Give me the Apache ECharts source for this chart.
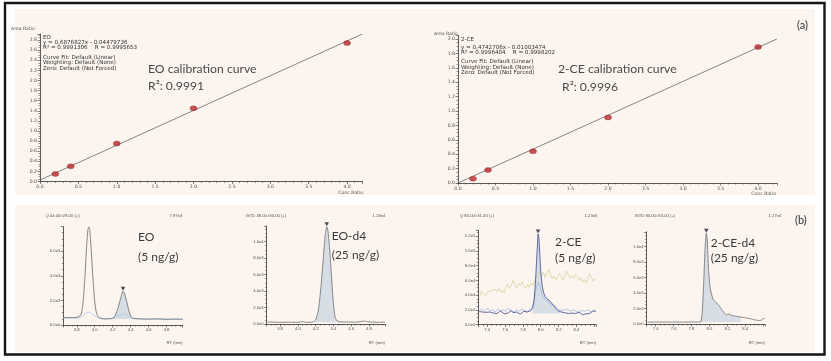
<!DOCTYPE html>
<html><head><meta charset="utf-8">
<script src="https://cdn.jsdelivr.net/npm/echarts@6/dist/echarts.min.js"></script>
<style>html,body{margin:0;padding:0;background:#fff}#c{width:831px;height:361px}</style>
</head><body><div id="c"></div>
<script>
// ---------- DATA ----------
const concRatio = [0.2, 0.4, 1.0, 2.0, 4.0];
const eoAreaRatio = [0.15, 0.30, 0.75, 1.45, 2.74];
const ceAreaRatio = [0.06, 0.18, 0.44, 0.91, 1.89];
const eoFitLine = [[0, 0.03], [4.2, 2.92]];
const ceFitLine = [[0, 0.0], [4.25, 2.0]];

const eoInfo = ['EO', 'y = 0.6876827x - 0.04479736', 'R\u00b2 = 0.9991306    R = 0.9995653', 'Curve Fit: Default (Linear)', 'Weighting: Default (None)', 'Zero: Default (Not Forced)'];
const ceInfo = ['2-CE', 'y = 0.4742706x - 0.01003474', 'R\u00b2 = 0.9996404    R = 0.9998202', 'Curve Fit: Default (Linear)', 'Weighting: Default (None)', 'Zero: Default (Not Forced)'];

// EO (5 ng/g) quantifier trace and qualifier trace
const eoQuant = [[3.65,620],[3.70,600],[3.75,610],[3.80,620],[3.83,700],[3.85,900],[3.87,1800],[3.89,3800],[3.91,6400],[3.925,7800],[3.935,7970],[3.945,7700],[3.96,6200],[3.98,3800],[4.00,1900],[4.02,950],[4.05,600],[4.10,500],[4.15,500],[4.20,550],[4.23,800],[4.26,1400],[4.29,2200],[4.315,2750],[4.33,2600],[4.36,1800],[4.39,900],[4.42,550],[4.50,500],[4.60,480],[4.70,500],[4.80,460],[4.90,480],[4.98,470]];
const eoQual = [[3.65,550],[3.80,550],[3.85,650],[3.90,950],[3.935,1050],[3.97,900],[4.02,650],[4.10,500],[4.20,550],[4.27,750],[4.32,900],[4.37,750],[4.42,550],[4.60,480],[4.98,470]];
// EO-d4 (25 ng/g)
const eod4 = [[3.66,250],[3.80,200],[3.90,220],[4.00,200],[4.05,300],[4.10,200],[4.17,250],[4.20,500],[4.23,1600],[4.26,4500],[4.29,8500],[4.31,11000],[4.325,11800],[4.34,11200],[4.36,8800],[4.38,5500],[4.40,2500],[4.42,800],[4.45,300],[4.55,250],[4.65,220],[4.75,350],[4.80,250],[4.90,200],[4.98,250]];
// 2-CE (5 ng/g): quantifier, qualifier, third transition
const ceQuant = [[7.31,17500],[7.33,16000],[7.35,17000],[7.37,15000],[7.39,16500],[7.41,14500],[7.43,17000],[7.45,18000],[7.47,15500],[7.49,17000],[7.51,15000],[7.53,16500],[7.55,18500],[7.57,16000],[7.59,14500],[7.61,17000],[7.63,15500],[7.65,17500],[7.67,19000],[7.69,16000],[7.71,15000],[7.73,17000],[7.75,15500],[7.77,14000],[7.79,16500],[7.81,18000],[7.83,15500],[7.85,17000],[7.87,16000],[7.89,19000],[7.91,23000],[7.925,32000],[7.94,55000],[7.955,90000],[7.97,123000],[7.98,118000],[7.99,95000],[8.00,72000],[8.015,54000],[8.03,44000],[8.05,38000],[8.07,35000],[8.09,34000],[8.11,31000],[8.13,28000],[8.15,25000],[8.17,22000],[8.19,19000],[8.21,21000],[8.23,17000],[8.25,19000],[8.27,16000],[8.29,18000],[8.31,15000],[8.33,17000],[8.35,15500],[8.37,18000],[8.39,15000],[8.41,14000],[8.43,16500],[8.45,15000],[8.47,13500],[8.49,16000],[8.51,14500],[8.53,17000],[8.55,15000],[8.57,16000],[8.59,19000],[8.61,17000],[8.62,17500]];
const ceQual = [[7.31,19000],[7.34,21000],[7.37,18000],[7.40,22000],[7.43,19000],[7.46,20000],[7.49,17000],[7.52,21000],[7.55,18000],[7.58,20000],[7.61,18000],[7.64,22000],[7.67,19000],[7.70,17000],[7.73,20000],[7.76,18000],[7.79,21000],[7.82,19000],[7.85,18000],[7.88,21000],[7.91,24000],[7.93,35000],[7.95,50000],[7.97,58000],[7.99,52000],[8.01,43000],[8.03,37000],[8.06,33000],[8.09,30000],[8.12,27000],[8.15,26000],[8.18,23000],[8.21,20000],[8.25,19000],[8.29,21000],[8.33,18000],[8.37,20000],[8.41,17000],[8.45,19000],[8.49,18000],[8.53,20000],[8.57,17000],[8.61,19000]];
const ceQual2 = [[7.32,39000],[7.335,46000],[7.35,42000],[7.37,44000],[7.39,40000],[7.41,45000],[7.43,43000],[7.45,46000],[7.47,44000],[7.49,48000],[7.51,45000],[7.53,49000],[7.55,44000],[7.57,47000],[7.59,43000],[7.61,51000],[7.63,55000],[7.65,49000],[7.67,53000],[7.69,60000],[7.71,54000],[7.73,50000],[7.75,56000],[7.77,53000],[7.79,58000],[7.81,52000],[7.83,49000],[7.85,54000],[7.87,51000],[7.89,56000],[7.91,53000],[7.93,59000],[7.95,63000],[7.97,69000],[7.99,73000],[8.01,66000],[8.03,71000],[8.05,64000],[8.07,70000],[8.09,75000],[8.11,68000],[8.13,62000],[8.15,66000],[8.17,61000],[8.19,65000],[8.21,69000],[8.23,64000],[8.25,60000],[8.27,67000],[8.29,73000],[8.31,68000],[8.33,63000],[8.35,66000],[8.37,62000],[8.39,68000],[8.41,65000],[8.43,60000],[8.45,64000],[8.47,58000],[8.49,61000],[8.51,56000],[8.53,62000],[8.55,69000],[8.57,64000],[8.59,59000],[8.61,63000]];
// 2-CE-d4 (25 ng/g)
const ced4 = [[7.31,250],[7.50,250],[7.70,250],[7.88,250],[7.905,300],[7.92,1500],[7.935,5000],[7.95,9500],[7.965,11700],[7.975,11000],[7.99,7000],[8.01,4500],[8.04,3200],[8.07,2800],[8.10,2500],[8.13,2000],[8.16,1500],[8.19,1200],[8.22,1300],[8.25,1100],[8.30,1000],[8.35,900],[8.40,800],[8.45,700],[8.50,550],[8.55,450],[8.58,500],[8.61,750],[8.62,650]];

// ---------- HELPERS ----------
const GRAY = '#555';
function sci(v){
  if (Math.abs(v) < 1e-9) return '0.0e0';
  const e = Math.floor(Math.log10(Math.abs(v)) + 1e-9);
  return (v / Math.pow(10, e)).toFixed(1) + 'e' + e;
}
function axisBase(fs){
  return {
    axisLine:{show:true,onZero:false,lineStyle:{color:'#333',width:0.8}},
    axisTick:{show:true,length:2.5,lineStyle:{color:'#333',width:0.6}},
    minorTick:{show:true,length:1.5,lineStyle:{color:'#333',width:0.5}},
    splitLine:{show:false}, minorSplitLine:{show:false},
    axisLabel:{fontSize:fs,color:GRAY,margin:3,fontFamily:'DejaVu Sans',showMinLabel:true,showMaxLabel:false}
  };
}
function inRange(arr,a,b){return arr.filter(p=>p[0]>=a&&p[0]<=b);}
function apex(arr,a,b){const s=inRange(arr,a,b);let m=s[0];s.forEach(p=>{if(p[1]>m[1])m=p;});return [m];}

const grids = [
  {left:40, top:34, width:322.4, height:147.5},
  {left:458, top:35.4, width:318.8, height:147.6},
  {left:63.3, top:226.7, width:119.4, height:98.3},
  {left:266.7, top:225.9, width:118.3, height:98.1},
  {left:478.3, top:230.4, width:117.7, height:94.1},
  {left:646.7, top:231.8, width:118.3, height:92.2}
].map(g=>Object.assign({outerBoundsMode:'none',containLabel:false},g));

function calX(i,max){
  const a = axisBase(4.6);
  return Object.assign(a,{type:'value',gridIndex:i,min:0,max:max,interval:0.5,
    minorTick:Object.assign(a.minorTick,{splitNumber:5}),
    axisLabel:Object.assign(a.axisLabel,{formatter:v=>v.toFixed(1)})});
}
function calY(i,max){
  const a = axisBase(4.6);
  return Object.assign(a,{type:'value',gridIndex:i,min:0,max:max,interval:0.2,
    minorTick:Object.assign(a.minorTick,{splitNumber:4}),
    axisLabel:Object.assign(a.axisLabel,{formatter:v=>v.toFixed(1)})});
}
function rtX(i,min,max,hideAbove){
  const a = axisBase(4.2);
  a.axisLabel.fontFamily='Liberation Sans';
  return Object.assign(a,{type:'value',gridIndex:i,min:min,max:max,splitNumber:6,
    minorTick:Object.assign(a.minorTick,{splitNumber:4}),
    axisLabel:Object.assign(a.axisLabel,{showMinLabel:false,formatter:v=>(v>hideAbove?'':v.toFixed(1))})});
}
function intY(i,max,interval){
  const a = axisBase(4.2);
  a.axisLabel.fontFamily='Liberation Sans';
  return Object.assign(a,{type:'value',gridIndex:i,min:0,max:max,interval:interval,
    minorTick:Object.assign(a.minorTick,{splitNumber:4}),
    axisLabel:Object.assign(a.axisLabel,{formatter:v=>sci(v)})});
}

const xAxis = [calX(0,4.2), calX(1,4.25), rtX(2,3.65,4.98,4.9), rtX(3,3.65,4.98,4.9), rtX(4,7.3,8.62,8.5), rtX(5,7.3,8.62,8.5)];
const yAxis = [calY(0,2.92), calY(1,2.05), intY(2,7990,2000), intY(3,11900,2000), intY(4,128000,20000), intY(5,11900,2000)];

function lineS(i,data,color,extra){
  return Object.assign({type:'line',xAxisIndex:i,yAxisIndex:i,data:data,symbol:'none',smooth:false,
    lineStyle:{color:color,width:0.8},silent:true,animation:false},extra||{});
}
function fillS(i,data,origin){
  return {type:'line',xAxisIndex:i,yAxisIndex:i,data:data,symbol:'none',smooth:0.2,
    lineStyle:{width:0},areaStyle:{color:'#c9d5e0',opacity:0.75,origin:origin},silent:true,animation:false,z:1};
}
function apexS(i,data,color){
  return {type:'scatter',xAxisIndex:i,yAxisIndex:i,data:data,symbol:'triangle',symbolRotate:180,
    symbolSize:[4.5,4],symbolOffset:[0,-2.5],itemStyle:{color:color||'#223'},silent:true,animation:false,z:5};
}
function ptsS(i,ys){
  return {type:'scatter',xAxisIndex:i,yAxisIndex:i,data:concRatio.map((x,k)=>[x,ys[k]]),symbol:'circle',
    symbolSize:[7,5],itemStyle:{color:'#b8282c',borderColor:'#8a1a1e',borderWidth:0.4},silent:true,animation:false,z:5};
}

const series = [
  lineS(0,eoFitLine,'#555',{lineStyle:{color:'#555',width:0.7}}),
  ptsS(0,eoAreaRatio),
  lineS(1,ceFitLine,'#555',{lineStyle:{color:'#555',width:0.7}}),
  ptsS(1,ceAreaRatio),
  // EO
  fillS(2,inRange(eoQuant,4.2,4.42),480),
  lineS(2,eoQual,'#a9c8e4',{smooth:0.3}),
  lineS(2,eoQuant,'#6a6a6a',{smooth:0.2}),
  apexS(2,apex(eoQuant,4.2,4.45)),
  // EO-d4
  fillS(3,inRange(eod4,4.2,4.45),200),
  lineS(3,eod4,'#6e6e6e',{smooth:0.2}),
  apexS(3,apex(eod4,4.2,4.45)),
  // 2-CE
  lineS(4,ceQual2,'#d0d6a0'),
  fillS(4,inRange(ceQuant,7.91,8.21),15000),
  lineS(4,ceQual,'#9fbde2'),
  lineS(4,ceQuant,'#434a8c'),
  apexS(4,apex(ceQuant,7.9,8.1)),
  // 2-CE-d4
  fillS(5,inRange(ced4,7.905,8.35),250),
  lineS(5,ced4,'#6e6e6e',{smooth:0.15}),
  apexS(5,apex(ced4,7.9,8.1))
];

// ---------- GRAPHIC (panels & texts) ----------
const TXT = '#3c3c3c';
function t(text,x,y,font,opts){
  return Object.assign({type:'text',z:100,silent:true,style:Object.assign({text:text,x:x,y:y,font:font,fill:TXT,textAlign:'left',textVerticalAlign:'middle'},opts||{})});
}
const g = [];
g.push({type:'rect',z:-20,silent:true,shape:{x:15,y:9,width:800,height:186},style:{fill:'#fcf4ee'}});
g.push({type:'rect',z:-20,silent:true,shape:{x:15,y:205,width:800,height:147},style:{fill:'#fcf4ee'}});
g.push({type:'rect',z:110,silent:true,shape:{x:5,y:3,width:819.5,height:351.5},style:{fill:'none',stroke:'#151515',lineWidth:2.4}});
// calibration info
const infoY1=[37.7,42.6,47.7,57.5,63,68.6], infoY2=[40,47.5,53,62,67.5,73];
eoInfo.forEach((s,k)=>g.push(t(s,43,infoY1[k],'5.6px "DejaVu Sans"',{fill:'#333'})));
ceInfo.forEach((s,k)=>g.push(t(s,461,infoY2[k],'5.6px "DejaVu Sans"',{fill:'#333'})));
g.push(t('Area Ratio',11,29,'4.6px "DejaVu Sans"',{fill:GRAY}));
g.push(t('Conc.Ratio',363,192.5,'4.6px "DejaVu Sans"',{fill:GRAY,textAlign:'right'}));
g.push(t('Area Ratio',434,34,'4.6px "DejaVu Sans"',{fill:GRAY}));
g.push(t('Conc.Ratio',776,194,'4.6px "DejaVu Sans"',{fill:GRAY,textAlign:'right'}));
g.push(t('EO calibration curve',148,69,'12.2px Lato',{fill:'#4a4a4a'}));
g.push(t('R\u00b2: 0.9991',148,86,'12.2px Lato',{fill:'#4a4a4a'}));
g.push(t('2-CE calibration curve',558,69,'12.2px Lato',{fill:'#4a4a4a'}));
g.push(t('R\u00b2: 0.9996',562,87,'12.2px Lato',{fill:'#4a4a4a'}));
g.push(t('(a)',797,25,'11px Lato',{fill:'#333'}));
g.push(t('(b)',795,220,'11px Lato',{fill:'#333'}));
// chromatogram headers
const hf='4.2px "Liberation Sans"';
g.push(t('Q 44.00>29.00 (+)',62.5,215.7,hf,{fill:GRAY,textAlign:'center'}));
g.push(t('7.97e3',176,215.7,hf,{fill:GRAY,textAlign:'center'}));
g.push(t('ISTD 48.00>30.00 (+)',266,215.7,hf,{fill:GRAY,textAlign:'center'}));
g.push(t('1.18e4',379,215.7,hf,{fill:GRAY,textAlign:'center'}));
g.push(t('Q 80.00>31.00 (+)',477,215.7,hf,{fill:GRAY,textAlign:'center'}));
g.push(t('1.23e5',591,215.7,hf,{fill:GRAY,textAlign:'center'}));
g.push(t('ISTD 84.00>33.00 (+)',655,215.7,hf,{fill:GRAY,textAlign:'center'}));
g.push(t('1.17e4',775,215.7,hf,{fill:GRAY,textAlign:'center'}));
['182.7','385','596','765'].forEach(x=>g.push(t('RT (min)',+x,343,hf,{fill:GRAY,textAlign:'right'})));
// compound labels
const lf='12px Lato';
g.push(t('EO',138,236.7,lf)); g.push(t('(5 ng/g)',138,256.7,lf));
g.push(t('EO-d4',331.7,236.5,lf)); g.push(t('(25 ng/g)',331.7,255,lf));
g.push(t('2-CE',555,242,lf)); g.push(t('(5 ng/g)',555,258.3,lf));
g.push(t('2-CE-d4',710.7,243.3,lf)); g.push(t('(25 ng/g)',710.7,258.3,lf));

const chart = echarts.init(document.getElementById('c'), null, {renderer:'canvas', width:831, height:361});
chart.setOption({
  animation:false,
  backgroundColor:'#ffffff',
  grid:grids, xAxis:xAxis, yAxis:yAxis, series:series,
  graphic:{elements:g}
});
</script></body></html>
